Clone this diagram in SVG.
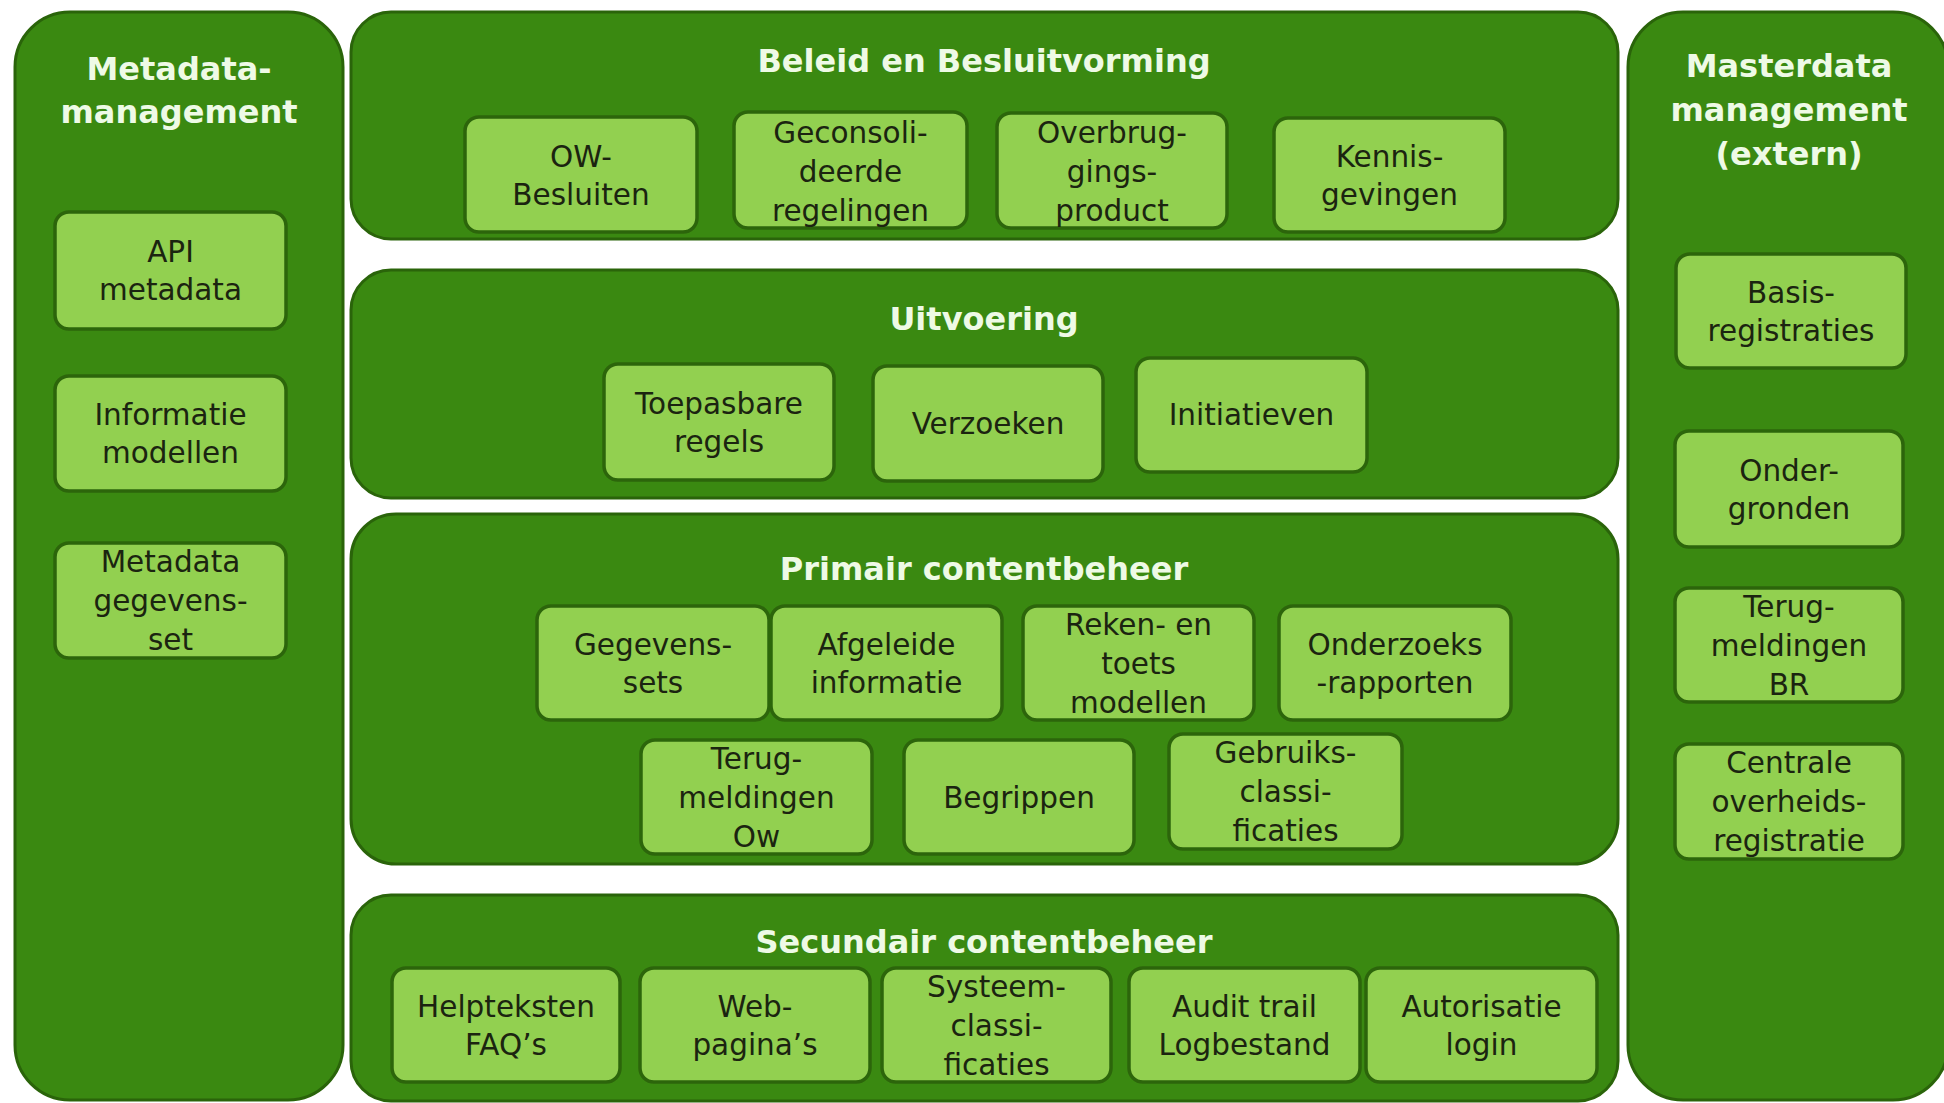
<svg xmlns="http://www.w3.org/2000/svg" width="1944" height="1103" viewBox="0 0 1944 1103">
<style>
.panel{fill:#3a8911;stroke:#2a640a;stroke-width:3}
.node{fill:#92d050;stroke:#2c650b;stroke-width:3.5}
.title{font-family:"DejaVu Sans",Verdana,sans-serif;font-weight:bold;font-size:32px;fill:#eefae6;text-anchor:middle}
.lbl{font-family:"DejaVu Sans",Verdana,sans-serif;font-size:29.5px;fill:#1b2410;text-anchor:middle}
</style>
<rect width="1944" height="1103" fill="#ffffff"/>
<g id="panels">
<g id="metadata-management"><rect class="panel" x="15" y="12" width="328" height="1088" rx="55"/>
<text class="title"><tspan x="179" y="80">Metadata-</tspan><tspan x="179" y="123">management</tspan></text></g>
<g id="beleid"><rect class="panel" x="351" y="12" width="1267" height="227" rx="40"/>
<text class="title" x="984" y="72">Beleid en Besluitvorming</text></g>
<g id="uitvoering"><rect class="panel" x="351" y="270" width="1267" height="228" rx="40"/>
<text class="title" x="984" y="330">Uitvoering</text></g>
<g id="primair"><rect class="panel" x="351" y="514" width="1267" height="350" rx="45"/>
<text class="title" x="984" y="580">Primair contentbeheer</text></g>
<g id="secundair"><rect class="panel" x="351" y="895" width="1267" height="206" rx="40"/>
<text class="title" x="984" y="953">Secundair contentbeheer</text></g>
<g id="masterdata-management"><rect class="panel" x="1628" y="12" width="320" height="1088" rx="55"/>
<text class="title"><tspan x="1789" y="77">Masterdata</tspan><tspan x="1789" y="121">management</tspan><tspan x="1789" y="165">(extern)</tspan></text></g>
</g>
<g id="nodes">
<g id="n-ow-besluiten"><rect class="node" x="465" y="117" width="232" height="115" rx="14"/><text class="lbl"><tspan x="581" y="167">OW-</tspan><tspan x="581" y="205">Besluiten</tspan></text></g>
<g id="n-geconsolideerde"><rect class="node" x="734" y="112" width="233" height="116" rx="14"/><text class="lbl"><tspan x="850.5" y="143">Geconsoli-</tspan><tspan x="850.5" y="182">deerde</tspan><tspan x="850.5" y="221">regelingen</tspan></text></g>
<g id="n-overbrugging"><rect class="node" x="997" y="113" width="230" height="115" rx="14"/><text class="lbl"><tspan x="1112" y="143">Overbrug-</tspan><tspan x="1112" y="182">gings-</tspan><tspan x="1112" y="221">product</tspan></text></g>
<g id="n-kennisgevingen"><rect class="node" x="1274" y="118" width="231" height="114" rx="14"/><text class="lbl"><tspan x="1389.5" y="167">Kennis-</tspan><tspan x="1389.5" y="205">gevingen</tspan></text></g>

<g id="n-toepasbare"><rect class="node" x="604" y="364" width="230" height="116" rx="14"/><text class="lbl"><tspan x="719" y="414">Toepasbare</tspan><tspan x="719" y="452">regels</tspan></text></g>
<g id="n-verzoeken"><rect class="node" x="873" y="366" width="230" height="115" rx="14"/><text class="lbl" x="988" y="434">Verzoeken</text></g>
<g id="n-initiatieven"><rect class="node" x="1136" y="358" width="231" height="114" rx="14"/><text class="lbl" x="1251.5" y="425">Initiatieven</text></g>

<g id="n-gegevenssets"><rect class="node" x="537" y="606" width="232" height="114" rx="14"/><text class="lbl"><tspan x="653" y="655">Gegevens-</tspan><tspan x="653" y="693">sets</tspan></text></g>
<g id="n-afgeleide"><rect class="node" x="771" y="606" width="231" height="114" rx="14"/><text class="lbl"><tspan x="886.5" y="655">Afgeleide</tspan><tspan x="886.5" y="693">informatie</tspan></text></g>
<g id="n-reken"><rect class="node" x="1023" y="606" width="231" height="114" rx="14"/><text class="lbl"><tspan x="1138.5" y="635">Reken- en</tspan><tspan x="1138.5" y="674">toets</tspan><tspan x="1138.5" y="713">modellen</tspan></text></g>
<g id="n-onderzoeks"><rect class="node" x="1279" y="606" width="232" height="114" rx="14"/><text class="lbl"><tspan x="1395" y="655">Onderzoeks</tspan><tspan x="1395" y="693">-rapporten</tspan></text></g>
<g id="n-terug-ow"><rect class="node" x="641" y="740" width="231" height="114" rx="14"/><text class="lbl"><tspan x="756.5" y="769">Terug-</tspan><tspan x="756.5" y="808">meldingen</tspan><tspan x="756.5" y="847">Ow</tspan></text></g>
<g id="n-begrippen"><rect class="node" x="904" y="740" width="230" height="114" rx="14"/><text class="lbl" x="1019" y="808">Begrippen</text></g>
<g id="n-gebruiks"><rect class="node" x="1169" y="734" width="233" height="115" rx="14"/><text class="lbl"><tspan x="1285.5" y="763">Gebruiks-</tspan><tspan x="1285.5" y="802">classi-</tspan><tspan x="1285.5" y="841">ficaties</tspan></text></g>

<g id="n-helpteksten"><rect class="node" x="392" y="968" width="228" height="114" rx="14"/><text class="lbl"><tspan x="506" y="1017">Helpteksten</tspan><tspan x="506" y="1055">FAQ’s</tspan></text></g>
<g id="n-webpaginas"><rect class="node" x="640" y="968" width="230" height="114" rx="14"/><text class="lbl"><tspan x="755" y="1017">Web-</tspan><tspan x="755" y="1055">pagina’s</tspan></text></g>
<g id="n-systeem"><rect class="node" x="882" y="968" width="229" height="114" rx="14"/><text class="lbl"><tspan x="996.5" y="997">Systeem-</tspan><tspan x="996.5" y="1036">classi-</tspan><tspan x="996.5" y="1075">ficaties</tspan></text></g>
<g id="n-audit"><rect class="node" x="1129" y="968" width="231" height="114" rx="14"/><text class="lbl"><tspan x="1244.5" y="1017">Audit trail</tspan><tspan x="1244.5" y="1055">Logbestand</tspan></text></g>
<g id="n-autorisatie"><rect class="node" x="1366" y="968" width="231" height="114" rx="14"/><text class="lbl"><tspan x="1481.5" y="1017">Autorisatie</tspan><tspan x="1481.5" y="1055">login</tspan></text></g>

<g id="n-api"><rect class="node" x="55" y="212" width="231" height="117" rx="14"/><text class="lbl"><tspan x="170.5" y="262">API</tspan><tspan x="170.5" y="300">metadata</tspan></text></g>
<g id="n-informatie"><rect class="node" x="55" y="376" width="231" height="115" rx="14"/><text class="lbl"><tspan x="170.5" y="425">Informatie</tspan><tspan x="170.5" y="463">modellen</tspan></text></g>
<g id="n-metadata-set"><rect class="node" x="55" y="543" width="231" height="115" rx="14"/><text class="lbl"><tspan x="170.5" y="572">Metadata</tspan><tspan x="170.5" y="611">gegevens-</tspan><tspan x="170.5" y="650">set</tspan></text></g>

<g id="n-basis"><rect class="node" x="1676" y="254" width="230" height="114" rx="14"/><text class="lbl"><tspan x="1791" y="303">Basis-</tspan><tspan x="1791" y="341">registraties</tspan></text></g>
<g id="n-ondergronden"><rect class="node" x="1675" y="431" width="228" height="116" rx="14"/><text class="lbl"><tspan x="1789" y="481">Onder-</tspan><tspan x="1789" y="519">gronden</tspan></text></g>
<g id="n-terug-br"><rect class="node" x="1675" y="588" width="228" height="114" rx="14"/><text class="lbl"><tspan x="1789" y="617">Terug-</tspan><tspan x="1789" y="656">meldingen</tspan><tspan x="1789" y="695">BR</tspan></text></g>
<g id="n-centrale"><rect class="node" x="1675" y="744" width="228" height="115" rx="14"/><text class="lbl"><tspan x="1789" y="773">Centrale</tspan><tspan x="1789" y="812">overheids-</tspan><tspan x="1789" y="851">registratie</tspan></text></g>
</g>
<g id="connectors"></g>
</svg>
